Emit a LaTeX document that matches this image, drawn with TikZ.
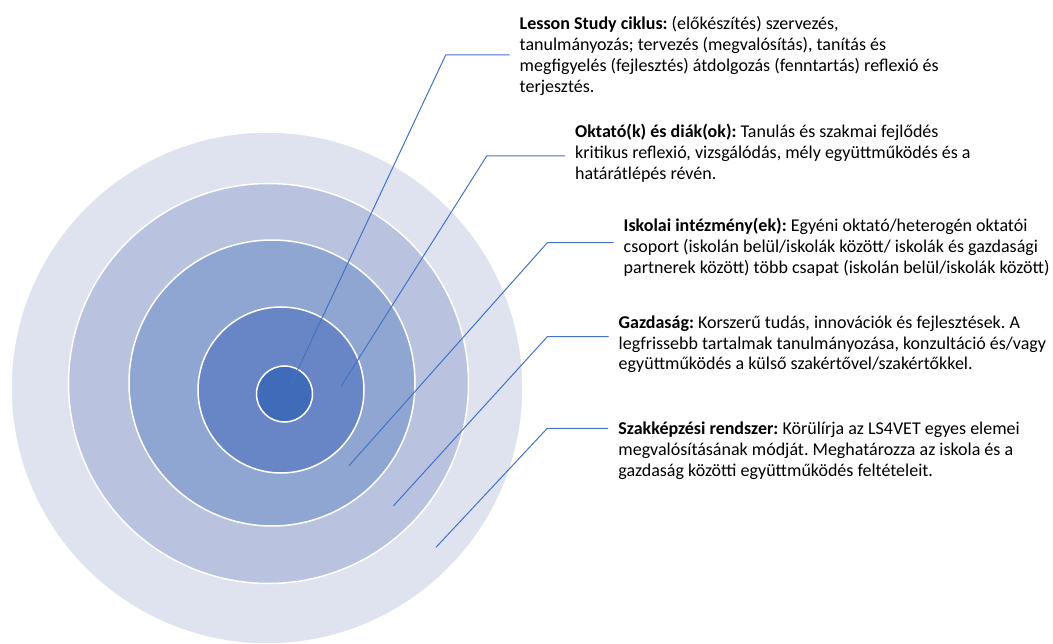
\documentclass[tikz,border=0pt]{standalone}
\usepackage{fontspec}
\setmainfont{Carlito}
\frenchspacing

\definecolor{ringA}{HTML}{DEE3EF}
\definecolor{ringB}{HTML}{B9C3E0}
\definecolor{ringC}{HTML}{8FA6D2}
\definecolor{ringD}{HTML}{6886C5}
\definecolor{ringE}{HTML}{406BB9}
\definecolor{leadblue}{HTML}{4472C4}

\begin{document}
\begin{tikzpicture}[x=1pt, y=-1pt,
  ring/.style={circle, draw=white, line width=1.5pt, inner sep=0pt},
  leader/.style={draw=leadblue, line width=1pt, shorten >=10pt},
  textbox/.style={anchor=base west, inner sep=0pt, align=left, font=\fontsize{18}{20.8}\selectfont}]
\useasboundingbox (0,0) rectangle (1053,644);

% Rings, outermost first
\node[ring, fill=ringA, minimum size=512pt] (system) at (267,388) {};
\node[ring, fill=ringB, minimum size=400pt] (economy) at (268.5,383.5) {};
\node[ring, fill=ringC, minimum size=286pt] (school) at (272,383) {};
\node[ring, fill=ringD, minimum size=166pt] (people) at (281,390) {};
\node[ring, fill=ringE, minimum size=56pt] (cycle) at (284.5,394) {};

% Texts (placed by the baseline of their last line)
\node[textbox] (txtCycle) at (519.5,92.3) {\textbf{Lesson Study ciklus:} (előkészítés) szervezés,\\
tanulmányozás; tervezés (megvalósítás), tanítás és\\
megfigyelés (fejlesztés) átdolgozás (fenntartás) reflexió és\\
terjesztés.};
\node[textbox] (txtPeople) at (575,179.3) {\textbf{Oktató(k) és diák(ok):} Tanulás és szakmai fejlődés\\
kritikus reflexió, vizsgálódás, mély együttműködés és a\\
határátlépés révén.};
\node[textbox] (txtSchool) at (623.5,273.3) {\textbf{Iskolai intézmény(ek):} Egyéni oktató/heterogén oktatói\\
csoport (iskolán belül/iskolák között/ iskolák és gazdasági\\
partnerek között) több csapat (iskolán belül/iskolák között)};
\node[textbox] (txtEconomy) at (618.5,370) {\textbf{Gazdaság:} Korszerű tudás, innovációk és fejlesztések. A\\
legfrissebb tartalmak tanulmányozása, konzultáció és/vagy\\
együttműködés a külső szakértővel/szakértőkkel.};
\node[textbox] (txtSystem) at (618.2,476) {\textbf{Szakképzési rendszer:} Körülírja az LS4VET egyes elemei\\
megvalósításának módját. Meghatározza az iskola és a\\
gazdaság közötti együttműködés feltételeit.};

% Leader tips and knees
\coordinate (tipA) at (291,384);
\coordinate (kneeA) at (445.7,55);
\coordinate (tipB) at (341,386.5);
\coordinate (kneeB) at (486.7,156);
\coordinate (tipC) at (349,465.7);
\coordinate (kneeC) at (547.3,242.7);
\coordinate (tipD) at (393.3,506);
\coordinate (kneeD) at (547.3,336.7);
\coordinate (tipE) at (436,547.3);
\coordinate (kneeE) at (547.3,428.3);

% Leaders
\draw[leader] (tipA) -- (kneeA) -- (kneeA -| txtCycle.west);
\draw[leader] (tipB) -- (kneeB) -- (kneeB -| txtPeople.west);
\draw[leader] (tipC) -- (kneeC) -- (kneeC -| txtSchool.west);
\draw[leader] (tipD) -- (kneeD) -- (kneeD -| txtEconomy.west);
\draw[leader] (tipE) -- (kneeE) -- (kneeE -| txtSystem.west);
\end{tikzpicture}
\end{document}
